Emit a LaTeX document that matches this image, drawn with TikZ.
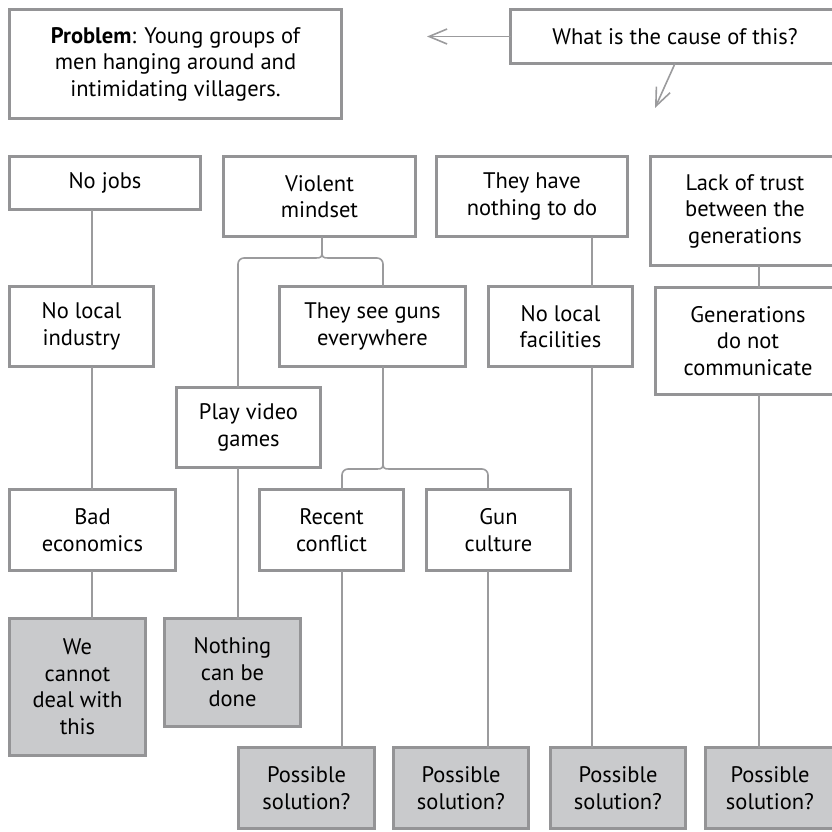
\documentclass[tikz,border=0pt]{standalone}
\usepackage{fontspec}
\setmainfont{PT Sans}
\usetikzlibrary{arrows.meta,calc}
\definecolor{bordergray}{RGB}{148,148,150}
\definecolor{linegray}{RGB}{155,155,157}
\definecolor{fillgray}{RGB}{201,202,204}
\tikzset{
  box/.style={draw=bordergray, line width=3pt, fill=white, inner sep=0pt, outer sep=0pt, align=center,
    font=\fontsize{22.5}{26.5}\selectfont},
  endbox/.style={box, fill=fillgray},
  conn/.style={draw=linegray, line width=1.6pt},
  arr/.style={conn, -{Straight Barb[length=18pt,width=15pt,line width=1.6pt]}}
}
\newcommand\bx[7]{%
  \node[#6, minimum width={(#4-#2-3)*1pt}, minimum height={(#5-#3-3)*1pt}] (#1) at ({(#2+#4)/2},{(#3+#5)/2}) {#7};}
\begin{document}
\begin{tikzpicture}[x=1pt,y=-1pt]
\useasboundingbox (0,0) rectangle (832,832);
% boxes
\bx{problem}{8}{8}{343}{120}{box}{\textbf{Problem}: Young groups of\\ men hanging around and\\ intimidating villagers.}
\bx{cause}{509}{8}{841}{65}{box}{What is the cause of this?}
\bx{nojobs}{8}{155}{202}{211}{box}{No jobs}
\bx{violent}{222}{155}{417}{238}{box}{Violent\\ mindset}
\bx{nothing}{435}{155}{629}{238}{box}{They have\\ nothing to do}
\bx{trust}{649}{155}{841}{267}{box}{Lack of trust\\ between the\\ generations}
\bx{industry}{8}{285}{155}{368}{box}{No local\\ industry}
\bx{guns}{278}{285}{467}{368}{box}{They see guns\\ everywhere}
\bx{facilities}{487}{285}{634}{368}{box}{No local\\ facilities}
\bx{gens}{654}{286}{842}{396}{box}{Generations\\ do not\\ communicate}
\bx{video}{175}{386}{322}{469}{box}{Play video\\ games}
\bx{econ}{8}{488}{177}{572}{box}{Bad\\ economics}
\bx{recent}{258}{488}{405}{572}{box}{Recent\\ conflict}
\bx{culture}{425}{488}{572}{572}{box}{Gun\\ culture}
\bx{cannot}{8}{617}{147}{757}{endbox}{We\\ cannot\\ deal with\\ this}
\bx{done}{163}{617}{302}{728}{endbox}{Nothing\\ can be\\ done}
\bx{sol1}{237}{746}{376}{830}{endbox}{Possible\\ solution?}
\bx{sol2}{392}{746}{530}{830}{endbox}{Possible\\ solution?}
\bx{sol3}{549}{746}{687}{830}{endbox}{Possible\\ solution?}
\bx{sol4}{704}{746}{836}{830}{endbox}{Possible\\ solution?}
% arrows from the question box
\coordinate (arrL) at (427,37);
\coordinate (arrD) at (655,108);
\draw[arr] (cause.west) -- (cause.west -| arrL);
\draw[arr] (cause.south) -- (arrD);
% connector columns
\coordinate (c92) at (92,0);
\coordinate (c238) at (238,0);
\coordinate (c342) at (342,0);
\coordinate (c488) at (488,0);
\coordinate (c592) at (592,0);
\coordinate (c759) at (759,0);
\draw[conn] (nojobs.south -| c92) -- (industry.north -| c92);
\draw[conn] (industry.south -| c92) -- (econ.north -| c92);
\draw[conn] (econ.south -| c92) -- (cannot.north -| c92);
\draw[conn] (video.south -| c238) -- (done.north -| c238);
\draw[conn] (recent.south -| c342) -- (sol1.north -| c342);
\draw[conn] (culture.south -| c488) -- (sol2.north -| c488);
\draw[conn] (nothing.south -| c592) -- (facilities.north -| c592);
\draw[conn] (facilities.south -| c592) -- (sol3.north -| c592);
\draw[conn] (trust.south -| c759) -- (gens.north -| c759);
\draw[conn] (gens.south -| c759) -- (sol4.north -| c759);
% bracket below "Violent mindset"
\coordinate (b1) at (322,258);
\coordinate (b1L) at (238,258);
\coordinate (b1R) at (383,258);
\draw[conn] (violent.south -| b1) -- ($(b1)+(0,-6)$) .. controls ($(b1)+(0,-1)$) and ($(b1)+(-1,0)$) .. ($(b1)+(-6,0)$);
\draw[conn] ($(b1)+(0,-6)$) .. controls ($(b1)+(0,-1)$) and ($(b1)+(1,0)$) .. ($(b1)+(6,0)$);
\draw[conn,rounded corners=6pt] ($(b1)+(-6,0)$) -- (b1L) -- (video.north -| b1L);
\draw[conn,rounded corners=6pt] ($(b1)+(6,0)$) -- (b1R) -- (guns.north -| b1R);
% bracket below "They see guns everywhere"
\coordinate (b2) at (383,469);
\coordinate (b2L) at (342,469);
\coordinate (b2R) at (488,469);
\draw[conn] (guns.south -| b2) -- ($(b2)+(0,-6)$) .. controls ($(b2)+(0,-1)$) and ($(b2)+(-1,0)$) .. ($(b2)+(-6,0)$);
\draw[conn] ($(b2)+(0,-6)$) .. controls ($(b2)+(0,-1)$) and ($(b2)+(1,0)$) .. ($(b2)+(6,0)$);
\draw[conn,rounded corners=6pt] ($(b2)+(-6,0)$) -- (b2L) -- (recent.north -| b2L);
\draw[conn,rounded corners=6pt] ($(b2)+(6,0)$) -- (b2R) -- (culture.north -| b2R);
\end{tikzpicture}
\end{document}
